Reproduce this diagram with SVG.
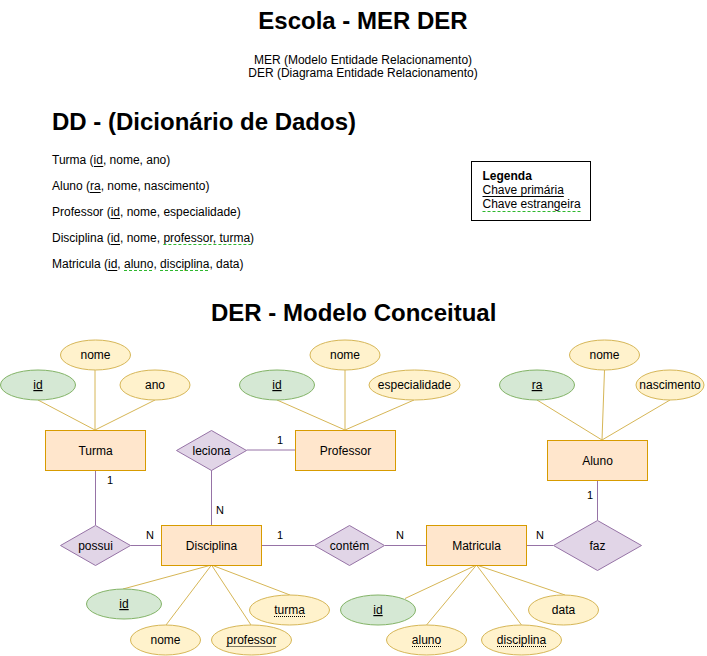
<svg xmlns="http://www.w3.org/2000/svg" width="707" height="656" viewBox="0 0 707 656">
<style>
text{font-family:"Liberation Sans",Arial,sans-serif;fill:#000}
.t{font-size:24px;font-weight:bold}
.s{font-size:12px}
.c{font-size:12px;text-anchor:middle}
.n{font-size:11px;text-anchor:middle}
.ent{fill:#ffe6cc;stroke:#d79b00}
.att{fill:#fff2cc;stroke:#d6b656}
.key{fill:#d5e8d4;stroke:#82b366}
.rel{fill:#e1d5e7;stroke:#9673a6}
.al{stroke:#d6b656;fill:none}
.rl{stroke:#9673a6;fill:none}
.pk{stroke:#000;stroke-width:1}
.fk{stroke:#2eb82e;stroke-width:1;stroke-dasharray:3 2}
.dk{stroke:#000;stroke-width:1;stroke-dasharray:1 1}
</style>
<rect width="707" height="656" fill="#fff"/>
<g id="titles">
<text class="t" x="363" y="29" text-anchor="middle">Escola - MER DER</text>
<text class="s" x="363" y="64" text-anchor="middle">MER (Modelo Entidade Relacionamento)</text>
<text class="s" x="363" y="77" text-anchor="middle">DER (Diagrama Entidade Relacionamento)</text>
<text class="t" x="52" y="130">DD - (Dicionário de Dados)</text>
<text class="t" x="211" y="321">DER - Modelo Conceitual</text>
</g>
<g id="dicionario">
<text class="s" x="52" y="164">Turma (id, nome, ano)</text>
<text class="s" x="52" y="190">Aluno (ra, nome, nascimento)</text>
<text class="s" x="52" y="216">Professor (id, nome, especialidade)</text>
<text class="s" x="52" y="242">Disciplina (id, nome, professor, turma)</text>
<text class="s" x="52" y="268">Matricula (id, aluno, disciplina, data)</text>
<line class="pk" x1="94" y1="166.5" x2="103.3" y2="166.5"/>
<line class="pk" x1="90" y1="192.5" x2="100.7" y2="192.5"/>
<line class="pk" x1="110.7" y1="218.5" x2="120" y2="218.5"/>
<line class="pk" x1="110.7" y1="244.5" x2="120" y2="244.5"/>
<line class="fk" x1="163.4" y1="244.5" x2="250.8" y2="244.5"/>
<line class="pk" x1="108" y1="270.5" x2="117.3" y2="270.5"/>
<line class="fk" x1="124" y1="270.5" x2="153.4" y2="270.5"/>
<line class="fk" x1="160" y1="270.5" x2="209.4" y2="270.5"/>
</g>
<g id="legenda">
<rect x="471.5" y="161.5" width="119" height="59" fill="#fff" stroke="#000"/>
<text class="s" x="482.5" y="180" font-weight="bold">Legenda</text>
<text class="s" x="482.5" y="194">Chave primária</text>
<text class="s" x="482.5" y="208">Chave estrangeira</text>
<line class="pk" x1="482.5" y1="196.5" x2="563.8" y2="196.5"/>
<line class="fk" x1="482.5" y1="211.5" x2="580.5" y2="211.5"/>
</g>
<g id="connectors">
<line class="al" x1="38" y1="400" x2="95" y2="430"/>
<line class="al" x1="95" y1="370" x2="95" y2="430"/>
<line class="al" x1="155" y1="400" x2="95" y2="430"/>
<line class="al" x1="277" y1="400" x2="345" y2="430"/>
<line class="al" x1="345" y1="370" x2="345" y2="430"/>
<line class="al" x1="414" y1="400" x2="345" y2="430"/>
<line class="al" x1="537" y1="400" x2="602" y2="440"/>
<line class="al" x1="604.5" y1="370" x2="602" y2="440"/>
<line class="al" x1="670" y1="400" x2="602" y2="440"/>
<line class="al" x1="211.5" y1="565" x2="123" y2="589"/>
<line class="al" x1="211.5" y1="565" x2="166" y2="625"/>
<line class="al" x1="211.5" y1="565" x2="251" y2="625"/>
<line class="al" x1="211.5" y1="565" x2="290" y2="595"/>
<line class="al" x1="476.5" y1="565" x2="405" y2="598.5"/>
<line class="al" x1="476.5" y1="565" x2="426.5" y2="625"/>
<line class="al" x1="476.5" y1="565" x2="521.5" y2="625"/>
<line class="al" x1="476.5" y1="565" x2="565" y2="595"/>
<line class="rl" x1="246.5" y1="450" x2="295" y2="450"/>
<line class="rl" x1="211.5" y1="470" x2="211.5" y2="525"/>
<line class="rl" x1="95.5" y1="470" x2="95.5" y2="525"/>
<line class="rl" x1="130.5" y1="545.5" x2="161" y2="545.5"/>
<line class="rl" x1="261" y1="545.5" x2="314" y2="545.5"/>
<line class="rl" x1="385" y1="545.5" x2="426" y2="545.5"/>
<line class="rl" x1="526" y1="545.5" x2="553" y2="545.5"/>
<line class="rl" x1="597.5" y1="480" x2="597.5" y2="520"/>
<text class="n" x="280" y="444">1</text>
<text class="n" x="220" y="514">N</text>
<text class="n" x="110" y="484">1</text>
<text class="n" x="150" y="539">N</text>
<text class="n" x="280" y="539">1</text>
<text class="n" x="400" y="539">N</text>
<text class="n" x="540" y="539">N</text>
<text class="n" x="590" y="499">1</text>
</g>
<g id="turma">
<rect class="ent" x="45.5" y="430.5" width="100" height="40"/>
<text class="c" x="95.5" y="454.5">Turma</text>
</g>
<g id="turma-id">
<ellipse class="key" cx="38" cy="385" rx="37.5" ry="15"/>
<text class="c" x="38" y="389" text-decoration="underline">id</text>
</g>
<g id="turma-nome">
<ellipse class="att" cx="95.5" cy="355" rx="35" ry="15"/>
<text class="c" x="95.5" y="359">nome</text>
</g>
<g id="turma-ano">
<ellipse class="att" cx="155" cy="385" rx="35" ry="15"/>
<text class="c" x="155" y="389">ano</text>
</g>
<g id="professor">
<rect class="ent" x="295.5" y="430.5" width="100" height="40"/>
<text class="c" x="345.5" y="454.5">Professor</text>
</g>
<g id="professor-id">
<ellipse class="key" cx="277" cy="385" rx="37.5" ry="15"/>
<text class="c" x="277" y="389" text-decoration="underline">id</text>
</g>
<g id="professor-nome">
<ellipse class="att" cx="345" cy="355" rx="35" ry="15"/>
<text class="c" x="345" y="359">nome</text>
</g>
<g id="professor-especialidade">
<ellipse class="att" cx="414.5" cy="385" rx="45.5" ry="15"/>
<text class="c" x="414.5" y="389">especialidade</text>
</g>
<g id="aluno">
<rect class="ent" x="547.5" y="440.5" width="100" height="40"/>
<text class="c" x="597.5" y="464.5">Aluno</text>
</g>
<g id="aluno-ra">
<ellipse class="key" cx="537" cy="385" rx="37.5" ry="15"/>
<text class="c" x="537" y="389" text-decoration="underline">ra</text>
</g>
<g id="aluno-nome">
<ellipse class="att" cx="604.5" cy="355" rx="35" ry="15"/>
<text class="c" x="604.5" y="359">nome</text>
</g>
<g id="aluno-nascimento">
<ellipse class="att" cx="670" cy="385" rx="34" ry="15"/>
<text class="c" x="670" y="389">nascimento</text>
</g>
<g id="leciona">
<polygon class="rel" points="211.5,430.5 246.5,450.5 211.5,470.5 176.5,450.5"/>
<text class="c" x="211.5" y="454.5">leciona</text>
</g>
<g id="possui">
<polygon class="rel" points="95.5,525.5 130.5,545.5 95.5,565.5 60.5,545.5"/>
<text class="c" x="95.5" y="549.5">possui</text>
</g>
<g id="disciplina">
<rect class="ent" x="161.5" y="525.5" width="100" height="40"/>
<text class="c" x="211.5" y="549.5">Disciplina</text>
</g>
<g id="disciplina-id">
<ellipse class="key" cx="124" cy="604" rx="37.5" ry="15"/>
<text class="c" x="124" y="608" text-decoration="underline">id</text>
</g>
<g id="disciplina-nome">
<ellipse class="att" cx="165.5" cy="640" rx="35" ry="15"/>
<text class="c" x="165.5" y="644">nome</text>
</g>
<g id="disciplina-professor">
<ellipse class="att" cx="251.5" cy="640" rx="40" ry="15"/>
<text class="c" x="251.5" y="644">professor</text>
<line class="dk" x1="226.5" y1="646.5" x2="276.5" y2="646.5"/>
</g>
<g id="disciplina-turma">
<ellipse class="att" cx="289.5" cy="610" rx="40" ry="15"/>
<text class="c" x="289.5" y="614">turma</text>
<line class="dk" x1="274" y1="616.5" x2="305" y2="616.5"/>
</g>
<g id="contem">
<polygon class="rel" points="349.5,525.5 384.5,545.5 349.5,565.5 314.5,545.5"/>
<text class="c" x="349.5" y="549.5">contém</text>
</g>
<g id="matricula">
<rect class="ent" x="426.5" y="525.5" width="100" height="40"/>
<text class="c" x="476.5" y="549.5">Matricula</text>
</g>
<g id="matricula-id">
<ellipse class="key" cx="378" cy="610" rx="37.5" ry="15"/>
<text class="c" x="378" y="614" text-decoration="underline">id</text>
</g>
<g id="matricula-aluno">
<ellipse class="att" cx="426.5" cy="640" rx="40" ry="15"/>
<text class="c" x="426.5" y="644">aluno</text>
<line class="dk" x1="412" y1="646.5" x2="441" y2="646.5"/>
</g>
<g id="matricula-disciplina">
<ellipse class="att" cx="521.5" cy="640" rx="40" ry="15"/>
<text class="c" x="521.5" y="644">disciplina</text>
<line class="dk" x1="497" y1="646.5" x2="546" y2="646.5"/>
</g>
<g id="matricula-data">
<ellipse class="att" cx="563.5" cy="610" rx="35" ry="15"/>
<text class="c" x="563.5" y="614">data</text>
</g>
<g id="faz">
<polygon class="rel" points="597.5,520.5 641.5,545.5 597.5,570.5 553.5,545.5"/>
<text class="c" x="597.5" y="549.5">faz</text>
</g>
</svg>
